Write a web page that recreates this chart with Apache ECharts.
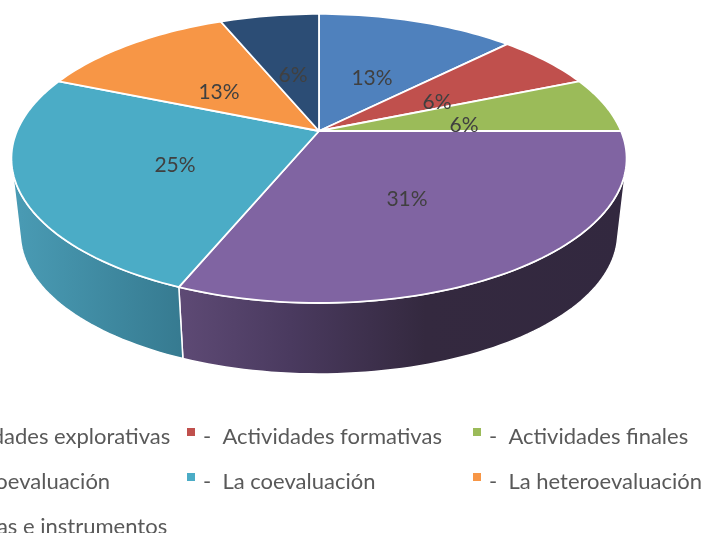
<!DOCTYPE html>
<html>
<head>
<meta charset="utf-8">
<style>
  html, body { margin: 0; padding: 0; background: #fff; }
  #main { width: 707px; height: 533px; }
</style>
<script src="https://cdn.jsdelivr.net/npm/echarts@6/dist/echarts.min.js"></script>
</head>
<body>
<div id="main"></div>
<script>
var categories = [
  'Actividades explorativas', 'Actividades formativas', 'Actividades finales',
  'La autoevaluación', 'La coevaluación', 'La heteroevaluación',
  'Técnicas e instrumentos'
]
var values = [2, 1, 1, 5, 4, 2, 1]
var colors = ['#4f81bd', '#c0504d', '#9bbb59', '#8064a2', '#4bacc6', '#f79646', '#2c4d75']

// side wall shading, only purple and teal can be seen from the front
var wallColors = {
  3: [[0, '#5e4a75'], [0.25, '#4a3a5f'], [0.55, '#34293f'], [1, '#32283f']],
  4: [[0, '#4a9cb5'], [1, '#367a90']]
}
// where the labels were dragged to in the original, px
var labelSpots = [[372, 78], [437, 102], [464, 125], [407, 199], [175, 165], [219, 92], [293, 75]]

// tilted disc: a circle seen in perspective, the pivot is not the ellipse centre
var cx = 319, cy = 131, rx = 302, ry = 139.3, tilt = 0.19
// wall bottom: rim shrunk towards the vanishing point below the chart
var shrink = 0.971, vanishY = 2750

var total = values.reduce(function (a, b) { return a + b }, 0)

function rimPoint (deg) {
  var t = deg * Math.PI / 180
  var u = Math.sin(t), v = Math.cos(t)
  var d = 1 + tilt * v
  return [cx + rx * u / d, cy - ry * v / d]
}
function lowPoint (p) {
  return [cx + (p[0] - cx) * shrink, p[1] + (1 - shrink) * (vanishY - p[1])]
}
function arcPoints (a0, a1) {
  var pts = []
  var n = Math.max(2, Math.ceil((a1 - a0) / 1.5))
  for (var i = 0; i <= n; i++) pts.push(rimPoint(a0 + (a1 - a0) * i / n))
  return pts
}
// angle where a wall line just touches the rim, this is the outline of the disc
function edgeAngle (from, to) {
  var best = from, bestLean = -1
  for (var a = from; a <= to; a += 0.5) {
    var p = rimPoint(a)
    var lean = Math.abs(p[0] - cx) / (vanishY - p[1])
    if (lean > bestLean) { bestLean = lean; best = a }
  }
  return best
}
var wallFrom = edgeAngle(90, 180)
var wallTo = edgeAngle(180, 270)

function renderSlice (params, api) {
  var idx = params.seriesIndex
  var before = values.slice(0, idx).reduce(function (a, b) { return a + b }, 0)
  var a0 = before / total * 360
  var a1 = (before + api.value(0)) / total * 360
  var children = []

  var w0 = Math.max(a0, wallFrom), w1 = Math.min(a1, wallTo)
  if (w1 > w0 && wallColors[idx]) {
    var upper = arcPoints(w0, w1)
    var lower = upper.map(lowPoint).reverse()
    children.push({
      type: 'polygon',
      z2: 1,
      shape: { points: upper.concat(lower) },
      style: {
        fill: new echarts.graphic.LinearGradient(0, 0, 1, 0, wallColors[idx].map(function (s) {
          return { offset: s[0], color: s[1] }
        })),
        stroke: '#fff',
        lineWidth: 1.5
      }
    })
  }

  children.push({
    type: 'polygon',
    z2: 2,
    shape: { points: [[cx, cy]].concat(arcPoints(a0, a1)) },
    style: { fill: colors[idx], stroke: '#fff', lineWidth: 1.8, lineJoin: 'round' }
  })

  children.push({
    type: 'text',
    z2: 3,
    style: {
      x: labelSpots[idx][0],
      y: labelSpots[idx][1],
      text: Math.round(api.value(0) / total * 100) + '%',
      font: '21px Lato',
      fill: '#404040',
      align: 'center',
      verticalAlign: 'middle'
    }
  })
  return { type: 'group', children: children }
}

var myChart = echarts.init(document.getElementById('main'))

var seriesArr = categories.map(function (name, i) {
  return {
    type: 'custom',
    name: name,
    coordinateSystem: 'none',
    silent: true,
    itemStyle: { color: colors[i] },
    renderItem: renderSlice,
    data: [values[i]]
  }
})

function legendColumn (left, names) {
  return {
    orient: 'vertical',
    left: left,
    top: 426,
    height: 300,
    itemWidth: 8,
    itemHeight: 18,
    itemGap: 23,
    // square sits at the top of the icon box, above the text middle as in the original
    icon: 'path://M0,0H8V8H0Z M0,18H0Z',
    selectedMode: false,
    padding: 0,
    data: names,
    formatter: function (name) { return '-  ' + name },
    textStyle: {
      fontFamily: 'Lato',
      fontSize: 22,
      color: '#595959',
      padding: [0, 0, 0, 3],
      lineHeight: 20
    }
  }
}

var option = {
  animation: false,
  backgroundColor: '#fff',
  legend: [
    legendColumn(-99, [categories[0], categories[3], categories[6]]),
    legendColumn(187, [categories[1], categories[4]]),
    legendColumn(473, [categories[2], categories[5]])
  ],
  series: seriesArr
}
myChart.setOption(option, true)
</script>
</body>
</html>
